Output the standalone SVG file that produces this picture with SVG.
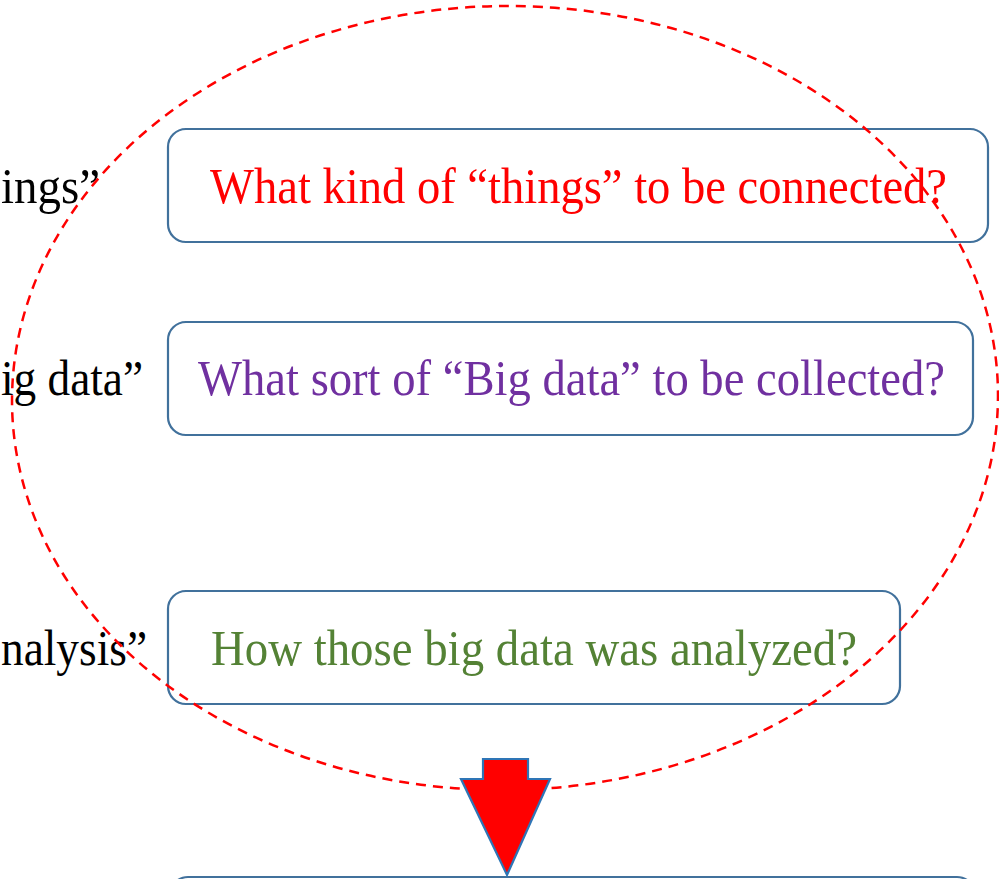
<svg xmlns="http://www.w3.org/2000/svg" width="999" height="879" viewBox="0 0 999 879">
<style>
.box{fill:#fff;stroke:#41719C;stroke-width:2.2}
.t{font-family:"Liberation Serif","Times New Roman",serif;font-size:50px}
.lbl{font-family:"Liberation Serif","Times New Roman",serif;font-size:50px;fill:#000}
</style>
<rect width="999" height="879" fill="#fff"/>
<g id="left-labels">
<text class="lbl" x="1" y="203" textLength="99" lengthAdjust="spacingAndGlyphs">ings”</text>
<text class="lbl" x="1" y="395" textLength="142" lengthAdjust="spacingAndGlyphs">ig data”</text>
<text class="lbl" x="1" y="665" textLength="146" lengthAdjust="spacingAndGlyphs">nalysis”</text>
</g>
<g id="node-things">
<rect class="box" x="168" y="129" width="820" height="113" rx="18"/>
<text class="t" x="210" y="203" fill="#FF0000" textLength="737" lengthAdjust="spacingAndGlyphs">What kind of “things” to be connected?</text>
</g>
<g id="node-bigdata">
<rect class="box" x="168" y="322" width="805" height="113" rx="18"/>
<text class="t" x="198" y="395" fill="#7030A0" textLength="747" lengthAdjust="spacingAndGlyphs">What sort of “Big data” to be collected?</text>
</g>
<g id="node-analysis">
<rect class="box" x="168" y="591" width="732" height="113" rx="18"/>
<text class="t" x="211" y="665" fill="#548235" textLength="646" lengthAdjust="spacingAndGlyphs">How those big data was analyzed?</text>
</g>
<g id="node-bottom">
<rect class="box" x="170" y="877" width="805" height="113" rx="18"/>
</g>
<g id="scope">
<ellipse cx="505" cy="398" rx="493" ry="392" transform="rotate(-0.8 505 398)" fill="none" stroke="#FF0000" stroke-width="2.5" stroke-dasharray="10 7"/>
</g>
<g id="connectors">
<polygon points="483,759 528,759 528,779 550,779 507,875 461,779 483,779" fill="#FF0000" stroke="#2E75B6" stroke-width="2.2" stroke-linejoin="miter"/>
</g>
</svg>
